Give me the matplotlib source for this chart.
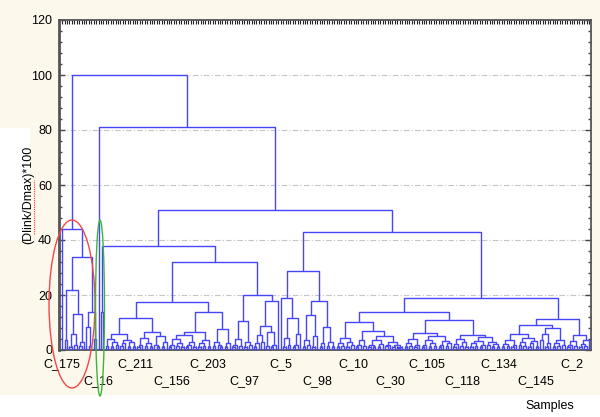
"""Dendrogram of samples, (Dlink/Dmax)*100 vs leaf order"""

import re
import numpy as np
import matplotlib
matplotlib.use('Agg')
import matplotlib.pyplot as plt
from matplotlib.patches import Ellipse, Rectangle
from matplotlib.lines import Line2D
from matplotlib.ticker import MultipleLocator

plt.rcParams['font.family'] = ['Liberation Sans', 'DejaVu Sans']
plt.rcParams['font.size'] = 9

# Tree written as nested (left,right)height groups, 'x' is one sample
grp_175 = "(x,(((x,x)3.6,(((x,x)1.2,(x,x)2)6,((x,x)1.5,x)3)13)22,((x,(x,x)1.5)8.5,(x,x)4)14)34)44"

ql1 = "(((x,x)1.5,((x,x)1,(x,x)2)3)4,(((x,x)1.5,x)2.5,((x,x)1,(x,x)1.2)3)3.5)6"
ql2 = "((((x,x)1,x)2,((x,x)1.5,(x,x)1)2.5)4.5,((x,(x,x)1)2,((x,x)1.2,x)3)5)6.5"
qr1 = "(((((x,x)1,x)2,((x,x)1.5,(x,x)1)2.5)4,(((x,x)1,x)1.8,(x,x)1.2)3)5.5,(((x,x)1,(x,x)1.5)2.5,(x,x)1)3.5)6.5"
qr2 = "(((x,x)1.5,(x,(x,x)1)2)3,((x,x)1,x)2.5)7.5"
r_left = "((((x,x)1,x)2,(x,x)1.5)4,((x,x)1.2,(x,x)2)3)10.5"
r_right = "(((((x,x)1,x)2.5,(x,x)3)5.5,((x,x)1.5,((x,x)1,x)2)6.5)8.8,x)18"

sl1 = "(x,(((x,x)1,(x,x)2)4.5,(((x,x)1,x)2,x)6)11.5)19"
sl2 = "((((x,x)1,(x,x)2)3.5,((x,x)1,x)5)12.7,(((x,x)1,x)2.5,((x,x)1.5,(x,x)1)3)8.3)18"

sr1a = ("((((x,x)1,(x,x)1.5)2.5,((x,x)1.2,(x,x)2)3)4.5,((((x,x)1,x)2,(x,x)1.5)3.8,"
        "((((x,x)1,(x,x)1.2)2,((x,x)1,x)2.2)3.5,(((x,x)1.5,x)2,((x,x)1,((x,x)0.6,x)1)1.8)3)5)6.8)10.2")
sr1b_l = ("((((x,x)1,(x,x)1.5)2.5,((x,x)1,x)2)4,((((x,x)1.2,x)2,((x,x)1,(x,x)1.4)2.4)3.6,"
          "(((x,x)1,x)1.8,((x,x)1.5,x)2.6)3.2)5.2)6.3")
sr1b_r = ("((((x,x)1,x)2.2,((x,x)1.3,(x,x)1)2.8)4.1,((((x,x)1,(x,x)1.6)2.5,((x,x)1,x)1.7)3.4,"
          "((x,x)2,((x,x)1,(x,x)1.2)2.3)3)4.6)5.3")
sr2_a = "((((x,x)1,(x,x)1.4)2.2,((x,x)1,x)1.8)3.5,(((x,x)2,(x,x)1.5)3,(((x,x)1,x)2.4,(x,x)1.2)3.3)4.4)6"
sr2_b = "(((x,x)3.5,((x,x)1,x)2.5)5.8,(((x,x)1,(x,x)1.5)2.4,(x,x)2)3.6)8"
sr2_c = "((((x,x)1,x)2,(x,x)1.5)3.2,(((x,x)1,(x,x)1.3)2.2,x)3.6)5.4"

tree_str = ("({a},(x,(((x,x)14,((({ql1},{ql2})11.6,({qr1},{qr2})13.7)17.5,({rl},{rr})20)32)38,"
            "(({sl1},{sl2})28.7,(({sr1a},({sr1b_l},{sr1b_r})10.9)14,(({sr2_a},{sr2_b})9.2,{sr2_c})11.4)18.9)43)51)81)100"
            ).format(a=grp_175, ql1=ql1, ql2=ql2, qr1=qr1, qr2=qr2, rl=r_left, rr=r_right,
                     sl1=sl1, sl2=sl2, sr1a=sr1a, sr1b_l=sr1b_l, sr1b_r=sr1b_r,
                     sr2_a=sr2_a, sr2_b=sr2_b, sr2_c=sr2_c)

# Leaf labels shown every 15th sample, two alternating rows
label_names = ['C_175', 'C_16', 'C_211', 'C_156', 'C_203', 'C_97', 'C_5', 'C_98',
               'C_10', 'C_30', 'C_105', 'C_118', 'C_134', 'C_145', 'C_2']
label_step = 15


def parse(s):
    pos = 0

    def node():
        nonlocal pos
        if s[pos] == 'x':
            pos += 1
            return None
        pos += 1  # (
        left = node()
        pos += 1  # ,
        right = node()
        pos += 1  # )
        m = re.match(r'[\d.]+', s[pos:])
        pos += m.end()
        return (float(m.group()), left, right)

    return node()


tree = parse(tree_str)

fig = plt.figure(figsize=(6, 4.17), dpi=100, facecolor='#fdf8ec')
# white patches of the original screenshot
fig.add_artist(Rectangle((0, 0), 1, 22 / 417, transform=fig.transFigure,
                         facecolor='white', edgecolor='none', zorder=0))
fig.add_artist(Rectangle((0, 1 - 240 / 417), 30 / 600, 112 / 417, transform=fig.transFigure,
                         facecolor='white', edgecolor='none', zorder=0))

ax = fig.add_axes([59 / 600, 67 / 417, 532 / 600, 330 / 417])
ax.set_facecolor('white')

blue = '#4646ff'
counter = [0]


def draw(nd):
    if nd is None:
        x = counter[0]
        counter[0] += 1
        return x, 0.0
    h, l, r = nd
    xl, hl = draw(l)
    xr, hr = draw(r)
    ax.plot([xl, xl, xr, xr], [hl, h, h, hr], color=blue, lw=1.0, solid_capstyle='butt', zorder=3)
    return (xl + xr) / 2, h


draw(tree)
n_leaves = counter[0]

for yg in range(20, 101, 20):
    ax.axhline(yg, color='#c4c4c4', lw=0.8, ls=(0, (5, 2, 1, 2)), zorder=1)

ax.set_xlim(-1.3, n_leaves - 0.2)
ax.set_ylim(0, 120)
ax.set_xticks(np.arange(n_leaves))
ax.set_xticklabels([])
ax.set_yticks(range(0, 121, 20))
ax.yaxis.set_minor_locator(MultipleLocator(4))
ax.tick_params(axis='x', direction='in', length=3, width=0.8, top=True, color='#222222')
ax.tick_params(axis='y', which='major', direction='in', length=4, width=1, right=True, pad=5, color='#444444')
ax.tick_params(axis='y', which='minor', direction='in', length=2.5, width=1, right=True, color='#444444')
for sp in ax.spines.values():
    sp.set_color('#555555')
    sp.set_linewidth(1.3)
ax.spines['left'].set_linewidth(2)

for k, name in enumerate(label_names):
    off = -14 if k % 2 == 0 else -31
    ax.annotate(name, xy=(k * label_step, 0), xycoords=('data', 'axes fraction'),
                xytext=(0, off * 0.72), textcoords='offset points',
                ha='center', va='center', fontsize=9)

fig.text(550 / 600, 1 - 406 / 417, 'Samples', ha='center', va='center', fontsize=9)
fig.text(28 / 600, 1 - 195 / 417, '(Dlink/Dmax)*100', rotation=90, ha='center', va='center', fontsize=9)
fig.add_artist(Line2D([33.5 / 600, 33.5 / 600], [1 - 234 / 417, 1 - 180 / 417], transform=fig.transFigure,
                      color='#ff3030', lw=0.8, ls=(0, (1, 1))))

# circled groups
fig.add_artist(Ellipse((72 / 600, 1 - 304 / 417), 46 / 600, 168 / 417, transform=fig.transFigure,
                       fill=False, edgecolor='#f04848', lw=1.0, zorder=5))
fig.add_artist(Ellipse((100 / 600, 1 - 308 / 417), 9 / 600, 176 / 417, transform=fig.transFigure,
                       fill=False, edgecolor='#3cb43c', lw=1.0, zorder=5))

fig.savefig('out.png', dpi=100, facecolor=fig.get_facecolor())
